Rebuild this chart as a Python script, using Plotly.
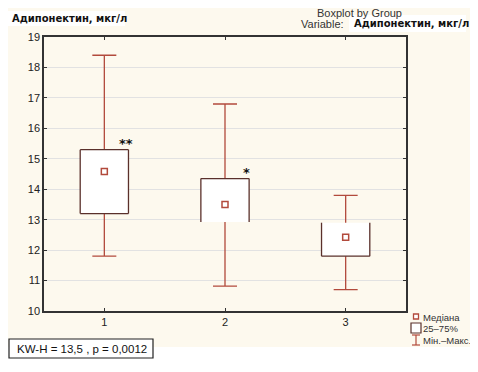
import plotly.graph_objects as go

groups = [1, 2, 3]
medians = [14.58, 13.5, 12.42]
q1 = [13.2, 12.92, 11.8]
q3 = [15.3, 14.35, 12.9]
mins = [11.8, 10.82, 10.7]
maxs = [18.4, 16.8, 13.8]
stars = ["**", "*", ""]
y_ticks = list(range(10, 20))
x_ticks = [1, 2, 3]
# which box edges are visible in the original picture
top_edge = [True, True, False]
bottom_edge = [True, False, True]

OFF = 8  # page body margin
W, H = 470, 364
L, T = 44 - OFF, 37 - OFF
PR, PB = 406 - OFF, 311 - OFF
R, B = W - PR, H - PB
PW, PH = PR - L, PB - T

def px(x):  # reference pixel -> paper
    return (x - OFF - L) / PW

def py(y):
    return (PB - (y - OFF)) / PH

WHISK = "#b24a3c"
BOXC = "#5a302b"
CREAM = "#fdf9ee"
FONT = "Liberation Sans, Arial, sans-serif"
BOLDF = "DejaVu Sans, Verdana, sans-serif"

fig = go.Figure()

# whiskers (min-max)
fig.add_trace(go.Scatter(
    x=groups, y=medians, mode="markers",
    marker=dict(size=1, color="rgba(0,0,0,0)"),
    error_y=dict(type="data", symmetric=False,
                 array=[mx - m for mx, m in zip(maxs, medians)],
                 arrayminus=[m - mn for m, mn in zip(medians, mins)],
                 color=WHISK, thickness=1.3, width=12),
    showlegend=False, hoverinfo="skip"))

hw = 0.2
for g, a, b, tflag, bflag in zip(groups, q1, q3, top_edge, bottom_edge):
    fig.add_trace(go.Scatter(
        x=[g - hw, g + hw, g + hw, g - hw, g - hw], y=[a, a, b, b, a],
        mode="lines", fill="toself", fillcolor="white",
        line=dict(width=0), showlegend=False, hoverinfo="skip"))
    xs, ys = [g - hw, g - hw, None, g + hw, g + hw], [a, b, None, a, b]
    if tflag:
        xs += [None, g - hw, g + hw]; ys += [None, b, b]
    if bflag:
        xs += [None, g - hw, g + hw]; ys += [None, a, a]
    fig.add_trace(go.Scatter(x=xs, y=ys, mode="lines",
                             line=dict(color=BOXC, width=1.3),
                             showlegend=False, hoverinfo="skip"))

fig.add_trace(go.Scatter(
    x=groups, y=medians, mode="markers",
    marker=dict(symbol="square", size=6, color="white",
                line=dict(color=WHISK, width=1.5)),
    showlegend=False, hoverinfo="skip"))

for g, q, s in zip(groups, q3, stars):
    if s:
        fig.add_annotation(x=g + 0.18, y=q + 0.2, text="<b>" + s + "</b>", showarrow=False,
                           xanchor="center", yanchor="middle",
                           font=dict(family=BOLDF, size=13, color="#111"))

shapes = [
    dict(type="rect", xref="paper", yref="paper", x0=px(6), x1=px(472),
         y0=py(347), y1=py(0), fillcolor=CREAM, line=dict(width=0), layer="below"),
    dict(type="rect", xref="paper", yref="paper", x0=px(8), x1=px(125),
         y0=py(26), y1=py(11), fillcolor="white", line=dict(width=0), layer="below"),
    dict(type="rect", xref="paper", yref="paper", x0=px(349), x1=px(466),
         y0=py(32), y1=py(15), fillcolor="white", line=dict(width=0), layer="below"),
    dict(type="rect", xref="paper", yref="paper", x0=px(9), x1=px(153),
         y0=py(358), y1=py(339), fillcolor="white", line=dict(color="#222", width=1.2)),
    # legend symbols
    dict(type="rect", xref="paper", yref="paper", x0=px(413.5), x1=px(418.5),
         y0=py(319), y1=py(314), fillcolor="white", line=dict(color=WHISK, width=1.3)),
    dict(type="rect", xref="paper", yref="paper", x0=px(411), x1=px(421),
         y0=py(333), y1=py(323), fillcolor="white", line=dict(color=BOXC, width=1.2)),
    dict(type="line", xref="paper", yref="paper", x0=px(416), x1=px(416),
         y0=py(345), y1=py(335), line=dict(color=WHISK, width=1.2)),
    dict(type="line", xref="paper", yref="paper", x0=px(412), x1=px(420),
         y0=py(335), y1=py(335), line=dict(color=WHISK, width=1.2)),
    dict(type="line", xref="paper", yref="paper", x0=px(412), x1=px(420),
         y0=py(345), y1=py(345), line=dict(color=WHISK, width=1.2)),
]

ann = [
    dict(text="<b>Адипонектин, мкг/л</b>", x=px(10), y=py(18.5), xanchor="left",
         font=dict(family=BOLDF, size=10, color="#111")),
    dict(text="Boxplot by Group", x=px(359), y=py(12.5), xanchor="center",
         font=dict(family=FONT, size=11, color="#333")),
    dict(text="Variable:", x=px(346), y=py(24.5), xanchor="right",
         font=dict(family=FONT, size=11, color="#333")),
    dict(text="<b>Адипонектин, мкг/л</b>", x=px(352), y=py(23.5), xanchor="left",
         font=dict(family=BOLDF, size=10, color="#111")),
    dict(text="KW-H = 13,5 , p = 0,0012", x=px(15), y=py(348.5), xanchor="left",
         font=dict(family=FONT, size=11.5, color="#111")),
    dict(text="Медіана", x=px(420.5), y=py(317), xanchor="left",
         font=dict(family=FONT, size=9.5, color="#333")),
    dict(text="25–75%", x=px(420.5), y=py(328.5), xanchor="left",
         font=dict(family=FONT, size=9.5, color="#333")),
    dict(text="Мін.–Макс.", x=px(420.5), y=py(340), xanchor="left",
         font=dict(family=FONT, size=9.5, color="#333")),
]
for a in ann:
    fig.add_annotation(xref="paper", yref="paper", yanchor="middle",
                       showarrow=False, **a)

fig.update_layout(
    width=W, height=H, margin=dict(l=L, r=R, t=T, b=B, pad=0),
    paper_bgcolor="white", plot_bgcolor="white", shapes=shapes,
    showlegend=False,
)
fig.update_xaxes(range=[0.5, 3.5], tickvals=x_ticks, ticktext=[str(v) for v in x_ticks],
                 showgrid=False, zeroline=False, showline=True, linecolor="#333",
                 linewidth=1.5, mirror="allticks", ticks="inside", ticklen=3,
                 tickcolor="#333", tickfont=dict(family=FONT, size=11, color="#222"))
fig.update_yaxes(range=[10, 19], tickvals=y_ticks, showgrid=True, gridcolor="#e2e2e2",
                 gridwidth=1, zeroline=False, showline=True, linecolor="#333",
                 linewidth=1.5, mirror="allticks", ticks="inside", ticklen=3,
                 tickcolor="#333", tickfont=dict(family=FONT, size=11, color="#222"))

fig.write_html("out.html")
